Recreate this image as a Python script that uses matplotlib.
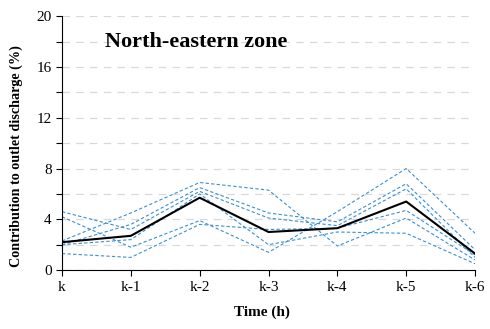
import matplotlib.pyplot as plt
from matplotlib.ticker import MultipleLocator

plt.rcParams['font.family'] = ['Liberation Serif', 'DejaVu Serif']

steps = ['k', 'k-1', 'k-2', 'k-3', 'k-4', 'k-5', 'k-6']

# individual events (blue dashed)
ev1 = [4.6, 3.2, 6.2, 4.1, 3.5, 6.4, 1.0]
ev2 = [4.2, 1.8, 3.9, 1.4, 4.6, 8.0, 2.9]
ev3 = [2.3, 4.5, 6.9, 6.3, 1.9, 4.1, 0.8]
ev4 = [2.0, 3.6, 6.5, 4.5, 3.8, 6.8, 1.6]
ev5 = [2.0, 2.4, 6.0, 2.0, 3.0, 2.9, 0.5]
ev6 = [1.3, 1.0, 3.6, 3.2, 3.3, 4.7, 1.2]
# mean
mean = [2.2, 2.7, 5.7, 3.0, 3.3, 5.4, 1.3]

fig = plt.figure(figsize=(4.9, 3.29), dpi=100)
ax = fig.add_axes([0.1265, 0.179, 0.843, 0.772])

x = range(len(steps))
for ev in [ev1, ev2, ev3, ev4, ev5, ev6]:
    ax.plot(x, ev, color='#3a8fd6', lw=0.8, ls=(0, (3, 2)))
ax.plot(x, mean, color='black', lw=1.5)

ax.set_xlim(0, 6)
ax.set_ylim(0, 20)
ax.set_xticks(list(x))
ax.set_xticklabels(steps)
ax.yaxis.set_major_locator(MultipleLocator(4))
ax.yaxis.set_minor_locator(MultipleLocator(2))
ax.grid(axis='y', which='both', color='#d9d9d9', ls=(0, (6, 5)), lw=0.9)
ax.set_axisbelow(True)
ax.tick_params(axis='both', which='major', labelsize=11, direction='out', length=4, width=0.8)
ax.tick_params(axis='y', which='minor', direction='out', length=4, width=0.8)

for s in ['top', 'right']:
    ax.spines[s].set_visible(False)

ax.set_xlabel('Time (h)', fontsize=11, fontweight='bold')
ax.set_ylabel('Contribution to outlet discharge (%)', fontsize=10.2, fontweight='bold')
ax.xaxis.set_label_coords(0.484, -0.138)
ax.yaxis.set_label_coords(-0.094, 0.449)

ax.text(0.104, 0.9, 'North-eastern zone', transform=ax.transAxes,
        fontsize=16, fontweight='bold', va='center', ha='left')

plt.savefig('out.png', dpi=100)
